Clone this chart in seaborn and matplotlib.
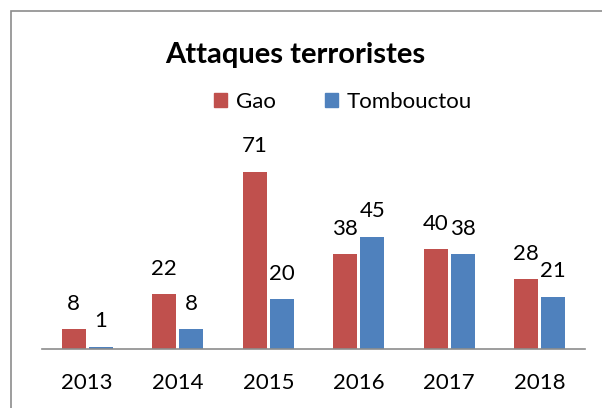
import pandas as pd
import matplotlib
matplotlib.use("Agg")
import matplotlib.pyplot as plt
import matplotlib.patches as mpatches
import seaborn as sns

# data
years = ["2013", "2014", "2015", "2016", "2017", "2018"]
gao = [8, 22, 71, 38, 40, 28]
tombouctou = [1, 8, 20, 45, 38, 21]
series_names = ["Gao", "Tombouctou"]
colors = ["#C0504D", "#4F81BD"]

df = pd.DataFrame({
    "annee": years * 2,
    "valeur": gao + tombouctou,
    "ville": [series_names[0]] * len(years) + [series_names[1]] * len(years),
})

sns.set_style("white")
plt.rcParams["font.family"] = ["Lato", "DejaVu Sans"]
plt.rcParams["text.color"] = "black"
plt.rcParams["xtick.color"] = "black"

fig = plt.figure(figsize=(6.02, 4.08), dpi=100)
ax = fig.add_axes([42 / 602, 1 - 349 / 408, 543 / 602, 200 / 408])

sns.barplot(data=df, x="annee", y="valeur", hue="ville", palette=colors,
            saturation=1, width=0.6, gap=0.12, ax=ax, legend=False,
            edgecolor="none")

for cont in ax.containers:
    ax.bar_label(cont, padding=11, fontsize=16, color="black")

ax.set_ylim(0, 80)
ax.set_xlim(-0.5, len(years) - 0.5)
ax.set_xlabel("")
ax.set_ylabel("")
ax.set_yticks([])
ax.tick_params(axis="x", length=0, pad=17, labelsize=16, labelcolor="black")
for side in ["left", "right", "top"]:
    ax.spines[side].set_visible(False)
ax.spines["bottom"].set_color("#8c8c8c")
ax.spines["bottom"].set_linewidth(1.2)

fig.text(295 / 602, 1 - 55 / 408, "Attaques terroristes", ha="center", va="center",
         fontsize=21, fontweight="bold", color="black")

handles = [mpatches.Patch(color=c, label=n) for c, n in zip(colors, series_names)]
fig.legend(handles=handles, loc="center", bbox_to_anchor=(343 / 602, 1 - 102 / 408),
           ncol=2, frameon=False, fontsize=16, handlelength=0.6, handleheight=0.6,
           handletextpad=0.4, columnspacing=2.2)

# outer chart border (cropped on right and bottom)
border = mpatches.Rectangle((11 / 602, -0.1), 1.0, 1 - 11 / 408 + 0.1,
                            transform=fig.transFigure, fill=False,
                            edgecolor="#8c8c8c", linewidth=1.2)
fig.patches.append(border)

fig.savefig("out.png", dpi=100)
